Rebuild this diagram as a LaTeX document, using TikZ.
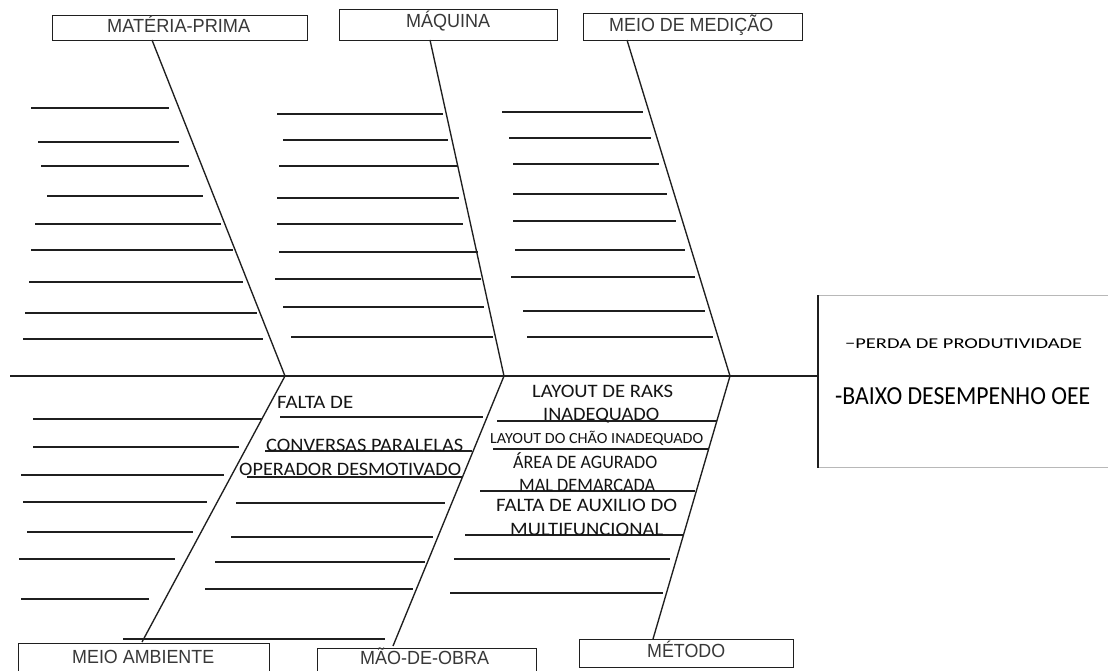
\documentclass[tikz,border=0pt]{standalone}
\usepackage{fontspec}
\usepackage{graphicx}
\setmainfont{Liberation Sans}
\newfontfamily\calfont{Carlito}
\newcommand\fitw[2]{\resizebox{#1pt}{\height}{#2}}
\begin{document}
\begin{tikzpicture}[x=1pt,y=-1pt]
\tikzset{
  rib/.style={line width=1.5pt, black!88},
  spine/.style={line width=1.35pt, black!88},
  catbox/.style={draw=black!88, line width=1.3pt, inner sep=0pt, anchor=north west},
  boxlab/.style={font=\fontsize{19}{21}\selectfont, text=black!78, inner sep=0pt, anchor=base west},
  cause/.style={font=\calfont\fontsize{19}{21}\selectfont, text=black!92, inner sep=0pt, anchor=base west},
}
\clip (0,0) rectangle (1108,671);
\fill[white] (0,0) rectangle (1108,671);

% category boxes
\node[catbox, minimum width=255, minimum height=25] (mp) at (52,15) {};
\node[catbox, minimum width=218, minimum height=31] (mq) at (339,9) {};
\node[catbox, minimum width=219, minimum height=27] (mm) at (583,13) {};
\node[catbox, minimum width=251, minimum height=50] (ma) at (18,643) {};
\node[catbox, minimum width=219, minimum height=50] (mo) at (317,648) {};
\node[catbox, minimum width=214, minimum height=28] (me) at (579,639) {};

\node[boxlab] (tmp) at (107,33) {\fitw{143}{MATÉRIA-PRIMA}};
\node[boxlab] (tmq) at (406,28) {\fitw{84}{MÁQUINA}};
\node[boxlab] (tmm) at (609,31.5) {\fitw{164}{MEIO DE MEDIÇÃO}};
\node[boxlab] (tma) at (72,663) {\fitw{142}{MEIO AMBIENTE}};
\node[boxlab] (tmo) at (360,664) {\fitw{129}{MÃO-DE-OBRA}};
\node[boxlab] (tme) at (647,657) {\fitw{78}{MÉTODO}};

% effect box
\node[draw=black!28, line width=1.1pt, inner sep=0pt, anchor=north west,
      minimum width=320, minimum height=172] (eff) at (818,295) {};
\draw[line width=1.4pt, black!88] (eff.north west) -- (eff.south west);
\node[inner sep=0pt, anchor=base west, font=\calfont\fontsize{15}{17}\selectfont] (t1) at (845,348) {\fitw{237}{−PERDA DE PRODUTIVIDADE}};
\node[inner sep=0pt, anchor=base west, font=\calfont\fontsize{26}{28}\selectfont] (t2) at (835,404) {\fitw{255}{-BAIXO DESEMPENHO OEE}};

% main spine
\coordinate (tail) at (10,376);
\coordinate (head) at (818,376);
\draw[spine] (tail) -- (head);

% joints on main line
\coordinate (j1) at (285,376);
\coordinate (j2) at (504,376);
\coordinate (j3) at (730,376);
% box attach points
\coordinate (amp) at (152,40);
\coordinate (amq) at (430,40);
\coordinate (amm) at (627,40);
\coordinate (ama) at (142,642);
\coordinate (amo) at (393,646);
\coordinate (ame) at (653,639);

\draw[spine] (amp) -- (j1);
\draw[spine] (amq) -- (j2);
\draw[spine] (amm) -- (j3);
\draw[spine] (j1) -- (ama);
\draw[spine] (j2) -- (amo);
\draw[spine] (j3) -- (ame);

% ribs
\foreach \a/\b/\y in {31/169/108, 38/179/142, 41/189/166, 47/203/196, 35/221/224, 31/233/250, 29/243/282, 25/257/313, 23/263/339,
  277/443/114, 283/448/140, 279/457/166, 277/459/198, 277/463/224, 279/478/252, 275/481/279, 283/484/307, 291/493/337,
  502/643/112, 509/651/138, 513/659/164, 513/667/194, 513/676/221, 515/685/250, 511/695/277, 523/705/311, 527/713/337,
  33/262/419, 33/239/447, 21/224/475, 23/207/502, 27/193/532, 19/175/559, 21/149/599,
  280/483/417, 265/472/451, 247/462/477, 236/445/503, 231/433/537, 215/425/562, 205/413/589, 123/385/639,
  497/717/421, 493/708/449, 480/695/491, 465/683/535, 454/670/559, 450/663/593}
  \draw[rib] (\a,\y) -- (\b,\y);

% causes
\node[cause] (c1) at (277,408) {\fitw{76}{FALTA DE}};
\node[cause] (c2) at (266,451) {\fitw{197}{CONVERSAS PARALELAS}};
\node[cause] (c3) at (239,475) {\fitw{222}{OPERADOR DESMOTIVADO}};
\node[cause] (c4) at (532,397) {\fitw{141}{LAYOUT DE RAKS}};
\node[cause] (c5) at (543,420) {\fitw{116}{INADEQUADO}};
\node[cause, font=\calfont\fontsize{15.5}{17}\selectfont] (c6) at (490,443) {\fitw{213}{LAYOUT DO CHÃO INADEQUADO}};
\node[cause] (c7) at (513,468) {\fitw{144}{ÁREA DE AGURADO}};
\node[cause] (c8) at (519,491) {\fitw{136}{MAL DEMARCADA}};
\node[cause] (c9) at (496,511) {\fitw{181}{FALTA DE AUXILIO DO}};
\node[cause] (c10) at (510,535) {\fitw{153}{MULTIFUNCIONAL}};
\end{tikzpicture}
\end{document}
